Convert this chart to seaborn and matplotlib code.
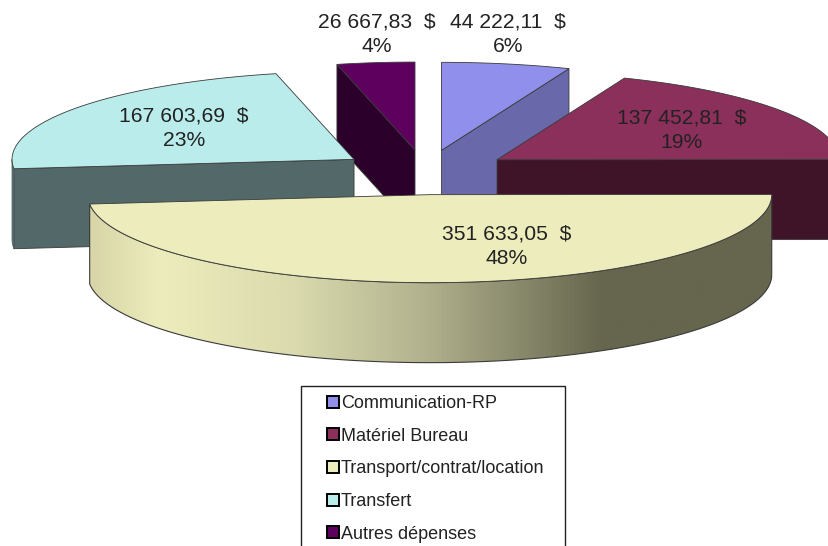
import numpy as np
import matplotlib
matplotlib.use('Agg')
import matplotlib.pyplot as plt
from matplotlib.colors import LinearSegmentedColormap
from matplotlib.lines import Line2D
from matplotlib.patches import Polygon, Rectangle
import seaborn as sns

# donnees
categories = ['Communication-RP', 'Matériel Bureau', 'Transport/contrat/location', 'Transfert', 'Autres dépenses']
values = [44222.11, 137452.81, 351633.05, 167603.69, 26667.83]

# couleurs du dessus et des cotes
top_colors = sns.color_palette(['#9090EC', '#8B2F5B', '#ECECBC', '#BAECEC', '#5E005E'])
side_colors = sns.color_palette(['#6868AA', '#3F1428', '#8C8C70', '#536868', '#2B002B'])
wall_stops = [(0.0, '#D8D6A8'), (0.10, '#ECECBC'), (0.30, '#DADAAE'), (0.50, '#AFAF8C'),
              (0.75, '#66664E'), (1.0, '#66664E')]

# positions du texte, en pixels
label_xy = [(508, 34), (682, 130), (507, 246), (184, 128), (377, 34)]

sns.set_theme(style='white')
plt.rcParams['font.family'] = ['Liberation Sans', 'DejaVu Sans']

# geometrie de la tarte en perspective
cx, cy = 425, 172.3
rx, ry = 342, 88
depth = 80
explode = 87
tilt = ry / rx
edge = '#3A3A3A'

fig = plt.figure(figsize=(8.29, 5.46), dpi=100)
ax = fig.add_axes([0, 0, 1, 1])


def rim(x0, y0, a, b, n=120):
    t = np.radians(np.linspace(a, b, n))
    return np.column_stack([x0 + rx * np.sin(t), y0 - ry * np.cos(t)])


def cut_face(x0, y0, angle, color, z):
    p = rim(x0, y0, angle, angle, 1)[0]
    pts = [(x0, y0), p, (p[0], p[1] + depth), (x0, y0 + depth)]
    ax.add_patch(Polygon(pts, closed=True, fc=color, ec=edge, lw=0.6, zorder=z))


total = sum(values)
angles = np.cumsum([0] + [v / total * 360 for v in values])
wall_cmap = LinearSegmentedColormap.from_list('wall', wall_stops)

# ordre de dessin: du fond vers l'avant
for z, i in enumerate([0, 4, 1, 3, 2]):
    a, b = angles[i], angles[i + 1]
    mid = np.radians((a + b) / 2)
    x0 = cx + explode * np.sin(mid)
    y0 = cy - explode * tilt * np.cos(mid)
    z = z * 10 + 2

    # faces coupees tournees vers nous
    if np.sin(np.radians(a)) < -1e-6:
        cut_face(x0, y0, a, side_colors[i], z)
    if np.sin(np.radians(b)) > 1e-6:
        cut_face(x0, y0, b, side_colors[i], z)

    # paroi exterieure, degrade seulement sur la grande part
    lo, hi = max(a, 90), min(b, 270)
    if hi > lo:
        front = rim(x0, y0, lo, hi)
        wall = np.vstack([front + [0, depth], front[::-1]])
        if i == 2:
            shape = Polygon(wall, closed=True, fc='none', ec=edge, lw=0.8, zorder=z + 1)
            ax.add_patch(shape)
            xs = wall[:, 0]
            img = ax.imshow(np.linspace(0, 1, 400)[None, :], cmap=wall_cmap, aspect='auto',
                            extent=[xs.min(), xs.max(), wall[:, 1].max(), wall[:, 1].min()],
                            zorder=z, interpolation='bilinear')
            img.set_clip_path(shape)
        else:
            ax.add_patch(Polygon(wall, closed=True, fc=side_colors[i], ec=side_colors[i], lw=0.6, zorder=z + 1))

    # dessus
    top = np.vstack([[(x0, y0)], rim(x0, y0, a, b)])
    ax.add_patch(Polygon(top, closed=True, fc=top_colors[i], ec=edge, lw=0.6, zorder=z + 2))

# etiquettes
for v, (lx, ly) in zip(values, label_xy):
    amount = f'{v:,.2f}'.replace(',', ' ').replace('.', ',')
    ax.text(lx, ly, f'{amount}  $\n{v / total * 100:.0f}%', ha='center', va='center', fontsize=15.2,
            color='#222222', linespacing=1.4, zorder=100)

# legende (coupee en bas comme l'original)
ax.add_patch(Rectangle((301, 386), 264, 200, fc='white', ec='#222222', lw=1, zorder=90))
handles = [Line2D([], [], ls='none', marker='s', ms=9, mfc=c, mec='black', mew=1.4) for c in top_colors]
ax.legend(handles, categories, loc='upper left', bbox_to_anchor=(312, 386), bbox_transform=ax.transData,
          frameon=False, fontsize=12.95, borderpad=0, labelspacing=0.87, handlelength=1.33, handletextpad=-0.22,
          labelcolor='#222222').set_zorder(95)

ax.set_xlim(0, 829)
ax.set_ylim(546, 0)
ax.axis('off')
fig.savefig('out.png', dpi=100)
